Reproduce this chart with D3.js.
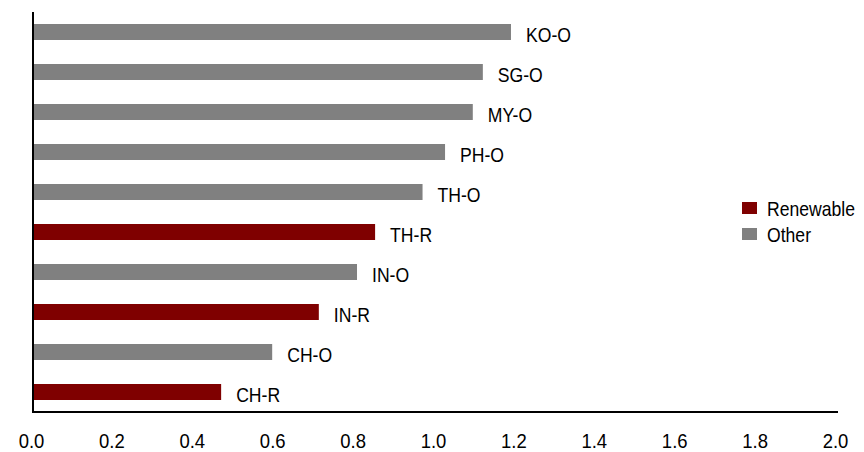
<!DOCTYPE html>
<html>
<head>
<meta charset="utf-8">
<script src="https://cdn.jsdelivr.net/npm/d3@7"></script>
<style>
  html, body { margin: 0; padding: 0; background: #fff; }
  svg text { font-family: "Liberation Sans", Arial, sans-serif; fill: #000; }
</style>
</head>
<body>
<svg id="chart" width="864" height="452"></svg>
<script>
const categories = ["KO-O", "SG-O", "MY-O", "PH-O", "TH-O", "TH-R", "IN-O", "IN-R", "CH-O", "CH-R"];
const values = [1.189, 1.119, 1.094, 1.025, 0.969, 0.851, 0.806, 0.711, 0.595, 0.468];
const types = ["Other", "Other", "Other", "Other", "Other", "Renewable", "Other", "Renewable", "Other", "Renewable"];
const xTicks = [0, 0.2, 0.4, 0.6, 0.8, 1.0, 1.2, 1.4, 1.6, 1.8, 2.0];
const legendItems = ["Renewable", "Other"];

const colors = { Renewable: "#7f0000", Other: "#808080" };
const squeeze = 0.88;

const svg = d3.select("#chart");
const x = d3.scaleLinear().domain([0, 2]).range([33, 837]);
const y = d3.scaleBand().domain(categories).range([12, 412]).paddingInner(0.6).paddingOuter(0.3);

// bars
svg.append("g").selectAll("rect")
  .data(categories)
  .join("rect")
  .attr("x", x(0))
  .attr("y", d => y(d))
  .attr("width", (d, i) => x(values[i]) - x(0))
  .attr("height", y.bandwidth())
  .attr("fill", (d, i) => colors[types[i]]);

// bar labels
svg.append("g").selectAll("text")
  .data(categories)
  .join("text")
  .attr("class", "sq")
  .attr("x", (d, i) => x(values[i]) + 15)
  .attr("y", d => y(d) + y.bandwidth() / 2 + 10)
  .attr("font-size", 20)
  .text(d => d);

// x axis
const xAxis = d3.axisBottom(x).tickValues(xTicks).tickFormat(d3.format(".1f")).tickSize(0).tickPadding(0);
const gx = svg.append("g").attr("transform", "translate(0,412)").call(xAxis);
gx.select(".domain").remove();
gx.selectAll("text")
  .attr("class", "sq")
  .attr("font-size", 21)
  .attr("dy", null)
  .attr("y", 36)
  .attr("x", -2)
  .attr("fill", "#000")
  .style("font-family", '"Liberation Sans", Arial, sans-serif');

// axis lines
svg.append("line").attr("x1", 33).attr("x2", 838).attr("y1", 412).attr("y2", 412)
  .attr("stroke", "#000").attr("stroke-width", 2);
svg.append("line").attr("x1", 33).attr("x2", 33).attr("y1", 12).attr("y2", 413)
  .attr("stroke", "#000").attr("stroke-width", 2);

// legend
const lg = svg.append("g");
legendItems.forEach((k, i) => {
  lg.append("rect").attr("x", 742).attr("y", 202 + i * 26).attr("width", 15).attr("height", 12)
    .attr("fill", colors[k]);
  lg.append("text").attr("class", "sq").attr("x", 767).attr("y", 215.5 + i * 26).attr("font-size", 20).text(k);
});

// condense text horizontally to mimic a narrow face
svg.selectAll("text.sq").each(function() {
  const s = d3.select(this);
  const tx = +s.attr("x") || 0, ty = +s.attr("y") || 0;
  s.attr("x", 0).attr("y", 0)
   .attr("transform", `translate(${tx},${ty}) scale(${squeeze},1)`);
});
</script>
</body>
</html>
